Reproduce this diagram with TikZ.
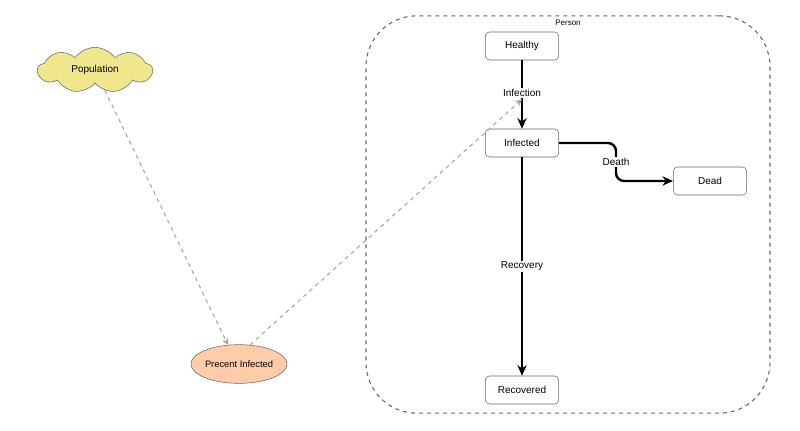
\documentclass[tikz,border=0pt]{standalone}
\usepackage{fontspec}
\setmainfont{Liberation Sans}
\usetikzlibrary{shapes.symbols,shapes.geometric,arrows.meta}
\definecolor{strk}{HTML}{666666}
\definecolor{cloudf}{HTML}{F0E68C}
\definecolor{ellf}{HTML}{FFCCAA}
\begin{document}
\begin{tikzpicture}[x=1pt,y=-1pt,
  box/.style={draw=strk,rounded corners=3pt,minimum width=55pt,minimum height=21pt,font=\fontsize{7.5}{9}\selectfont,fill=white},
  flow/.style={line width=1.8pt,-{Stealth[length=8pt,width=7pt]}},
  lbl/.style={font=\fontsize{7.5}{9}\selectfont,fill=white,inner sep=1pt},
  link/.style={draw=gray!70,dashed,line width=0.8pt,-{Stealth[length=5pt,width=5pt]}}]
\useasboundingbox (0,0) rectangle (600,322.5);
\begin{scope}[x=0.75pt,y=-0.75pt]
\node[draw=strk,dashed,rounded corners=38pt,line width=0.8pt,minimum width=303pt,minimum height=298pt] (person) at (568,214.5) {};
\node[font=\fontsize{6}{7}\selectfont] (plabel) at (568,23) {Person};
\node[box] (h) at (522,46) {Healthy};
\node[box] (i) at (522,143) {Infected};
\node[box] (d) at (710,181) {Dead};
\node[box] (r) at (522,390) {Recovered};
\node[cloud,cloud puffs=9,cloud puff arc=110,aspect=2.5,draw=strk,fill=cloudf,minimum width=86pt,minimum height=34pt,inner sep=0pt,font=\fontsize{7.5}{9}\selectfont] (pop) at (95,70) {Population};
\node[ellipse,draw=strk,fill=ellf,minimum width=66pt,minimum height=29pt,inner sep=0pt,font=\fontsize{7}{8}\selectfont] (pi) at (239,364) {Precent Infected};
\draw[flow] (h) -- (i) node[lbl,pos=0.48] (inf) {Infection};
\draw[flow] (i) -- (r) node[lbl,midway] (rec) {Recovery};
\coordinate (c1) at (616,143);
\coordinate (c2) at (616,181);
\draw[flow,rounded corners=6pt] (i.east) -- (c1) -- (c2) -- (d.west);
\node[lbl] (dl) at (616,162) {Death};
\draw[link] (pop) -- (pi.120);
\draw[link] (pi.60) -- (inf.south);
\end{scope}
\end{tikzpicture}
\end{document}
